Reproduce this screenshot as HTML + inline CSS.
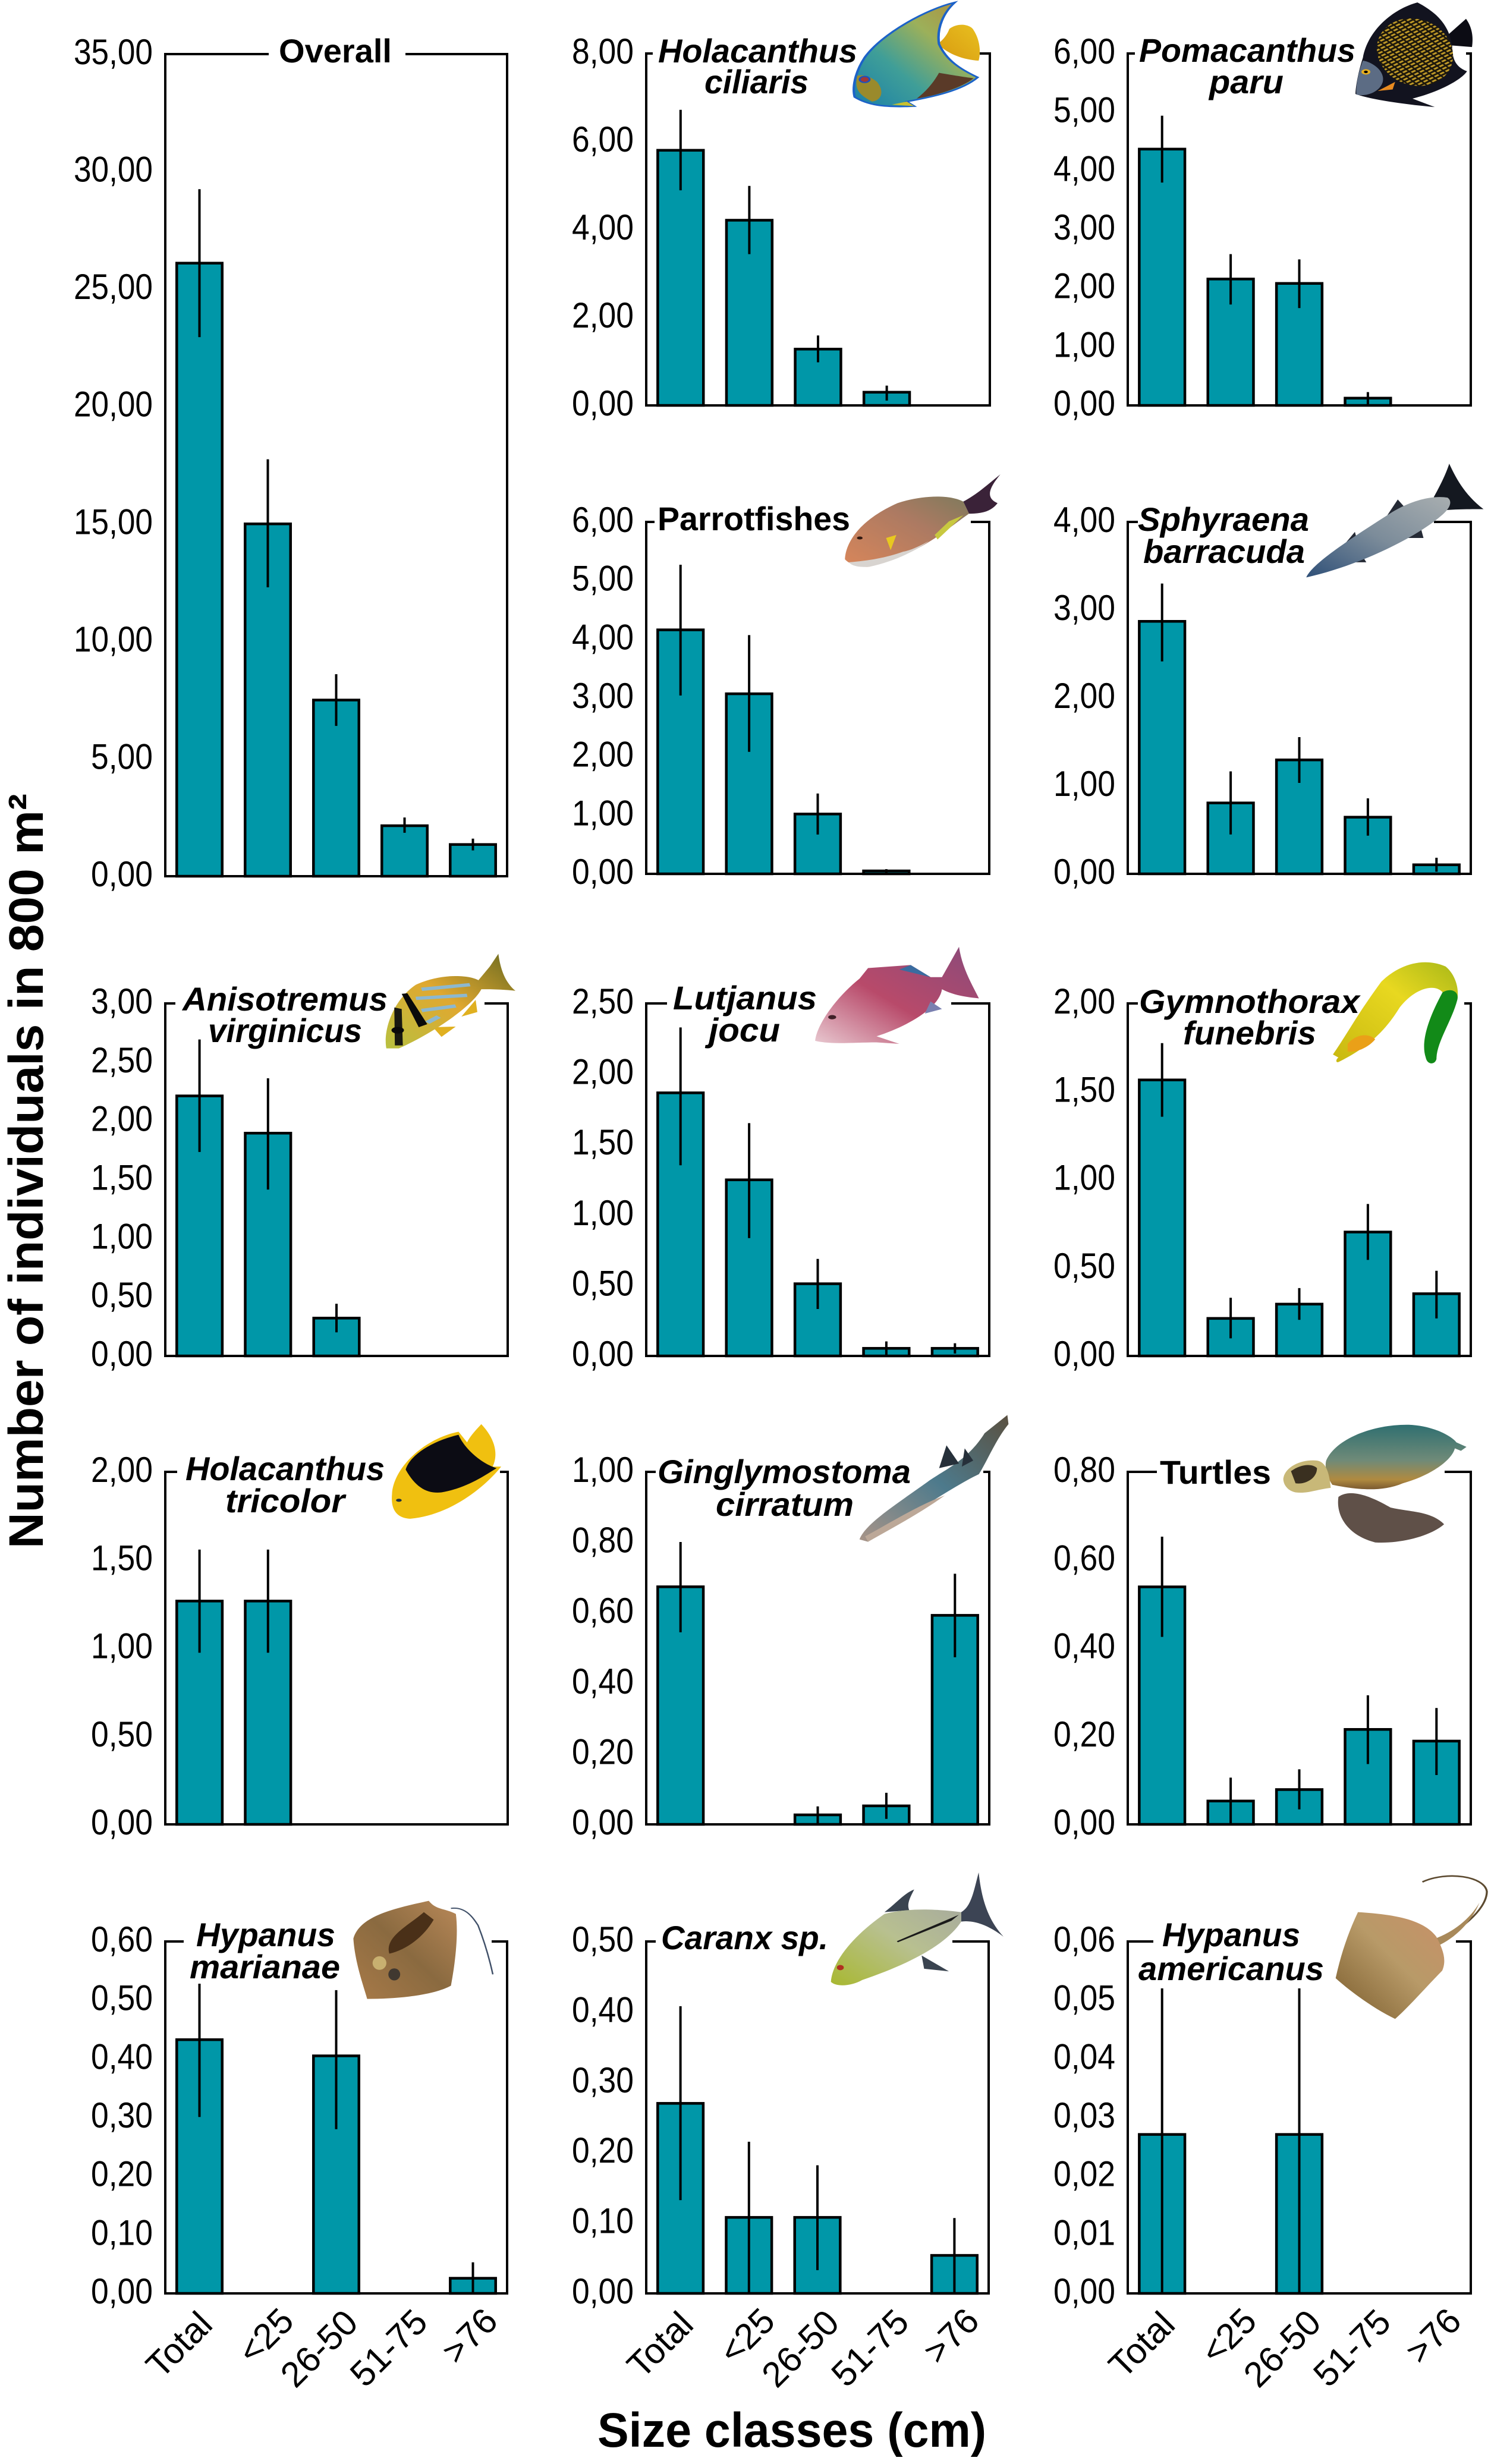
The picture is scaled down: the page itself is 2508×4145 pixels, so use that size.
<!DOCTYPE html>
<html lang="en">
<head>
<meta charset="utf-8">
<title>Number of individuals by size class</title>
<style>
  html, body { margin: 0; padding: 0; background: #ffffff; }
  svg { display: block; }
  text { font-family: "Liberation Sans", sans-serif; fill: #000; }
  .pt { font-size: 56px; font-weight: bold; font-style: italic; }
  .pu { font-size: 56px; font-weight: bold; }
</style>
</head>
<body>
<svg id="chart" xmlns="http://www.w3.org/2000/svg" width="2508" height="4145" viewBox="0 0 2508 4145">
  <defs>
    <linearGradient id="gQueen" x1="0" y1="1" x2="1" y2="0"><stop offset="0" stop-color="#1a7fa8"/><stop offset=".35" stop-color="#3f9e98"/><stop offset=".65" stop-color="#9cb05a"/><stop offset=".85" stop-color="#a89a48"/><stop offset="1" stop-color="#d0742c"/></linearGradient>
    <linearGradient id="gTail" x1="0" y1="1" x2="1" y2="0"><stop offset="0" stop-color="#d89a10"/><stop offset="1" stop-color="#e8c020"/></linearGradient>
    <pattern id="pGold" width="14" height="10" patternUnits="userSpaceOnUse" patternTransform="rotate(-30)"><rect width="14" height="10" fill="#1c170c"/><rect x="1" y="2" width="10" height="5" fill="#c09a28"/></pattern>
    <linearGradient id="gParrot" x1="0" y1="1" x2="1" y2="0"><stop offset="0" stop-color="#d8865a"/><stop offset=".6" stop-color="#ac7a62"/><stop offset="1" stop-color="#7f7a5c"/></linearGradient>
    <linearGradient id="gBarr" x1="0" y1="1" x2="1" y2="0"><stop offset="0" stop-color="#2f5078"/><stop offset=".5" stop-color="#7c8c9a"/><stop offset="1" stop-color="#a8aeb0"/></linearGradient>
    <linearGradient id="gGrunt" x1="0" y1="1" x2="1" y2="0"><stop offset="0" stop-color="#b8c040"/><stop offset=".5" stop-color="#e0a830"/><stop offset="1" stop-color="#6a6a20"/></linearGradient>
    <linearGradient id="gSnap" x1="0" y1="1" x2="1" y2="0"><stop offset="0" stop-color="#e8c8d0"/><stop offset=".45" stop-color="#b84a6a"/><stop offset="1" stop-color="#8a4a7a"/></linearGradient>
    <linearGradient id="gEel" x1="0" y1="1" x2="1" y2="0"><stop offset="0" stop-color="#c8b810"/><stop offset=".6" stop-color="#e8d820"/><stop offset="1" stop-color="#a8b818"/></linearGradient>
    <linearGradient id="gShark" x1="0" y1="1" x2="1" y2="0"><stop offset="0" stop-color="#a89488"/><stop offset=".5" stop-color="#4d7a8c"/><stop offset="1" stop-color="#5a5040"/></linearGradient>
    <linearGradient id="gShell" x1="0" y1="0" x2="0" y2="1"><stop offset="0" stop-color="#2f6f70"/><stop offset=".55" stop-color="#6f8a78"/><stop offset=".85" stop-color="#b08a40"/><stop offset="1" stop-color="#7a5a30"/></linearGradient>
    <linearGradient id="gRay" x1="0" y1="1" x2="1" y2="0"><stop offset="0" stop-color="#a87a48"/><stop offset=".5" stop-color="#8a6a40"/><stop offset="1" stop-color="#b88858"/></linearGradient>
    <linearGradient id="gJack" x1="0" y1="1" x2="1" y2="0"><stop offset="0" stop-color="#a8b830"/><stop offset=".4" stop-color="#b8c090"/><stop offset="1" stop-color="#9a9aa8"/></linearGradient>
    <linearGradient id="gRay2" x1="0" y1="1" x2="1" y2="0"><stop offset="0" stop-color="#7a5c2c"/><stop offset=".55" stop-color="#b89a68"/><stop offset="1" stop-color="#c89068"/></linearGradient>
  </defs>

  <g id="marks"></g>

  <text transform="rotate(-90 72 1970)" x="72" y="1970" text-anchor="middle" font-size="82" font-weight="bold" textLength="1270" lengthAdjust="spacingAndGlyphs">Number of individuals in 800 m²</text>
  <text x="1005" y="4116" font-size="82" font-weight="bold" textLength="654" lengthAdjust="spacingAndGlyphs">Size classes (cm)</text>

  <text class="pu" x="469" y="105" textLength="190" lengthAdjust="spacingAndGlyphs">Overall</text>
  <text class="pt" x="1107" y="105" textLength="335" lengthAdjust="spacingAndGlyphs">Holacanthus</text>
  <text class="pt" x="1185" y="157" textLength="175" lengthAdjust="spacingAndGlyphs">ciliaris</text>
  <text class="pt" x="1916" y="104" textLength="364" lengthAdjust="spacingAndGlyphs">Pomacanthus</text>
  <text class="pt" x="2034" y="157" textLength="125" lengthAdjust="spacingAndGlyphs">paru</text>
  <text class="pu" x="1106" y="892" textLength="324" lengthAdjust="spacingAndGlyphs">Parrotfishes</text>
  <text class="pt" x="1914" y="893" textLength="288" lengthAdjust="spacingAndGlyphs">Sphyraena</text>
  <text class="pt" x="1923" y="947" textLength="272" lengthAdjust="spacingAndGlyphs">barracuda</text>
  <text class="pt" x="307" y="1700" textLength="345" lengthAdjust="spacingAndGlyphs">Anisotremus</text>
  <text class="pt" x="350" y="1753" textLength="259" lengthAdjust="spacingAndGlyphs">virginicus</text>
  <text class="pt" x="1132" y="1698" textLength="242" lengthAdjust="spacingAndGlyphs">Lutjanus</text>
  <text class="pt" x="1192" y="1752" textLength="120" lengthAdjust="spacingAndGlyphs">jocu</text>
  <text class="pt" x="1916" y="1704" textLength="371" lengthAdjust="spacingAndGlyphs">Gymnothorax</text>
  <text class="pt" x="1990" y="1757" textLength="224" lengthAdjust="spacingAndGlyphs">funebris</text>
  <text class="pt" x="312" y="2490" textLength="335" lengthAdjust="spacingAndGlyphs">Holacanthus</text>
  <text class="pt" x="379" y="2544" textLength="201" lengthAdjust="spacingAndGlyphs">tricolor</text>
  <text class="pt" x="1106" y="2495" textLength="426" lengthAdjust="spacingAndGlyphs">Ginglymostoma</text>
  <text class="pt" x="1204" y="2550" textLength="232" lengthAdjust="spacingAndGlyphs">cirratum</text>
  <text class="pu" x="1951" y="2496" textLength="187" lengthAdjust="spacingAndGlyphs">Turtles</text>
  <text class="pt" x="330" y="3274" textLength="234" lengthAdjust="spacingAndGlyphs">Hypanus</text>
  <text class="pt" x="319" y="3328" textLength="253" lengthAdjust="spacingAndGlyphs">marianae</text>
  <text class="pt" x="1112" y="3279" textLength="281" lengthAdjust="spacingAndGlyphs">Caranx sp.</text>
  <text class="pt" x="1955" y="3274" textLength="232" lengthAdjust="spacingAndGlyphs">Hypanus</text>
  <text class="pt" x="1915" y="3331" textLength="312" lengthAdjust="spacingAndGlyphs">americanus</text>

  <!-- Species illustrations -->
  <g transform="translate(1200 0) scale(.834 .5102)">
    <path d="M476,95 C495,72 520,82 525,100 C537,130 540,170 535,200 C505,197 475,180 452,145 C465,130 472,112 476,95Z" fill="url(#gTail)"/>
    <path d="M487,8 C430,30 340,110 305,190 C285,240 280,290 285,320 C310,345 340,355 405,350 L390,335 C440,320 500,300 533,255 C500,230 470,200 455,145 C450,90 465,40 487,8Z" fill="url(#gQueen)" stroke="#1c62c8" stroke-width="5"/>
    <path d="M455,240 C490,250 510,255 525,258 C500,290 450,315 410,325 C430,300 445,270 455,240Z" fill="#5a3a28"/>
    <path d="M290,250 C285,290 290,310 320,335 C340,330 345,300 330,270 C315,250 300,245 290,250Z" fill="#9a8a2c"/>
    <circle cx="305" cy="262" r="10" fill="#a03838" stroke="#1c50c0" stroke-width="4"/>
    <path d="M360,345 L405,350 L390,335 Z" fill="#c8c030"/>
  </g>
  <g transform="translate(1200 0) scale(.834 .5102)">
    <path d="M1478,120 L1518,62 C1530,90 1533,120 1530,155 L1490,150Z" fill="#0c0c14"/>
    <path d="M1420,8 C1370,30 1320,100 1310,190 C1300,240 1295,290 1295,310 C1330,330 1400,345 1455,353 L1410,325 C1470,300 1510,260 1520,235 C1495,220 1490,190 1490,150 C1485,100 1470,50 1420,8Z" fill="#12131f"/>
    <ellipse cx="1415" cy="172" rx="76" ry="112" transform="rotate(-8 1415 172)" fill="url(#pGold)"/>
    <path d="M1310,200 C1300,240 1295,290 1297,312 C1320,320 1345,300 1350,270 C1355,235 1330,205 1310,200Z" fill="#5c6c84"/>
    <circle cx="1316" cy="237" r="9" fill="#e8b020"/><circle cx="1316" cy="237" r="4" fill="#000"/>
    <path d="M1340,300 L1375,270 L1370,295 Z" fill="#e88a20"/>
  </g>
  <g transform="translate(1000 780) scale(.9617 .5102)">
    <path d="M645,125 C670,100 690,65 710,35 C695,70 680,110 705,130 C695,155 680,165 655,165Z" fill="#3a2238"/>
    <path d="M438,315 C440,250 470,180 530,130 C570,105 620,100 645,125 L655,165 C620,210 570,300 480,340 C460,342 445,330 438,315Z" fill="url(#gParrot)"/>
    <path d="M445,325 C480,320 510,310 540,290 C555,285 570,270 585,255 C560,290 520,325 480,340 C465,342 450,338 445,325Z" fill="#d8d4d0"/>
    <path d="M600,250 L645,170 L620,190 L595,235Z" fill="#c8c840"/>
    <path d="M510,245 L518,285 L528,235 Z" fill="#e8c820"/>
    <circle cx="464" cy="245" r="5" fill="#301810"/>
  </g>
  <g transform="translate(1000 780) scale(.9617 .5102)">
    <path d="M1495,0 C1505,40 1520,100 1555,150 C1530,150 1500,150 1480,155 L1468,110 C1480,70 1490,30 1495,0Z" fill="#141820"/>
    <path d="M1405,118 L1420,150 L1385,175Z M1330,225 L1335,260 L1310,270Z M1445,210 L1450,245 L1420,245Z M1345,310 L1350,325 L1330,325Z" fill="#252a35"/>
    <path d="M1245,375 C1255,330 1320,250 1395,160 C1435,115 1470,105 1492,112 C1502,125 1495,150 1482,170 C1440,240 1340,335 1245,375Z" fill="url(#gBarr)"/>
  </g>
  <g transform="translate(250 1580) scale(.9566 .5102)">
    <path d="M575,200 L578,240 L550,255Z M500,290 L540,288 L515,322Z" fill="#e0b020"/>
    <path d="M418,360 C412,300 430,200 470,150 C510,115 560,115 580,135 L600,90 L615,48 C618,90 625,140 645,170 C620,165 600,165 585,165 C570,220 500,310 440,360Z" fill="url(#gGrunt)"/>
    <path d="M480,165 L565,150 M470,195 L560,185 M480,235 L540,220 M490,275 L510,255" stroke="#8cb8d0" stroke-width="11" fill="none"/>
    <path d="M445,180 L455,178 L490,280 L475,290Z" fill="#0a0a0a"/>
    <path d="M432,225 L445,230 L447,350 L433,350Z" fill="#181810"/>
    <circle cx="438" cy="300" r="11" fill="#0a0a0a"/>
  </g>
  <g transform="translate(250 1580) scale(.9566 .5102)">
    <path d="M1172,335 C1175,280 1210,190 1250,130 L1265,95 L1340,85 L1375,125 L1395,125 L1425,25 C1430,90 1445,140 1460,195 C1430,190 1410,180 1395,165 C1390,230 1330,290 1280,320 L1320,345 L1280,340 C1240,340 1200,348 1172,335Z" fill="url(#gSnap)"/>
    <path d="M1340,85 L1375,125 L1320,100Z" fill="#3a6ca0"/>
    <path d="M1375,205 L1395,230 L1365,245Z" fill="#7a80b0"/>
    <circle cx="1202" cy="257" r="7" fill="#402028"/>
  </g>
  <g transform="translate(1700 1580) scale(.5153 .5102)">
    <path d="M1052,380 C1100,310 1130,250 1210,140 C1260,90 1340,55 1420,90 C1450,115 1465,160 1458,200 L1410,175 C1385,145 1320,160 1270,225 C1230,290 1180,350 1070,405 C1060,408 1062,395 1070,390Z" fill="url(#gEel)"/>
    <path d="M1410,175 C1435,160 1465,170 1458,200 C1440,270 1390,340 1390,395 C1385,415 1360,415 1355,390 C1335,330 1375,240 1410,175Z" fill="#128a18"/>
    <path d="M1100,345 C1130,310 1170,310 1190,330 C1170,355 1130,375 1100,370Z" fill="#eaa018"/>
  </g>
  <g transform="translate(250 2360) scale(.9566 .5102)">
    <path d="M428,300 C430,220 480,120 545,95 L560,130 C565,110 575,90 585,70 C610,120 615,170 605,210 L620,210 C590,280 530,370 460,382 C440,380 425,360 428,300Z" fill="#f0c010"/>
    <path d="M545,105 C500,125 460,170 452,220 C470,280 490,300 515,295 C560,280 590,240 612,215 C585,200 555,150 545,105Z" fill="#0c0c14"/>
    <circle cx="440" cy="321" r="5" fill="#203040"/>
  </g>
  <g transform="translate(250 2360) scale(.9566 .5102)">
    <path d="M1250,450 C1260,400 1310,340 1370,260 C1400,220 1440,190 1470,100 L1510,40 L1512,70 C1490,120 1475,190 1460,235 C1420,270 1340,370 1265,458Z" fill="url(#gShark)"/>
    <path d="M1390,215 L1403,140 L1425,200Z M1430,210 L1435,150 L1450,190Z" fill="#26303a"/>
    <path d="M1260,440 C1300,400 1350,340 1400,305 C1360,360 1310,410 1265,458Z" fill="#bca898"/>
  </g>
  <g transform="translate(1700 2360) scale(.5153 .5102)">
    <path d="M1030,190 C1060,120 1180,70 1300,72 C1380,75 1440,110 1455,130 L1488,145 L1470,158 L1450,150 C1440,190 1370,240 1280,265 C1200,300 1100,280 1050,270 C1030,240 1025,210 1030,190Z" fill="url(#gShell)"/>
    <path d="M890,250 C895,210 950,185 1000,190 C1030,195 1040,230 1045,280 C1000,285 970,300 930,295 C905,290 890,270 890,250Z" fill="#c8b878"/>
    <path d="M915,225 C950,200 985,200 1000,215 C1000,250 960,270 930,265Z" fill="#3a3020"/>
    <path d="M1070,310 C1110,280 1180,310 1240,345 C1300,360 1370,355 1415,400 C1370,440 1270,465 1190,460 C1110,440 1060,380 1070,310Z" fill="#5f5048"/>
  </g>
  <g transform="translate(0 3150) scale(.829 .6346)">
    <path d="M915,95 C945,90 960,120 970,140 C985,190 995,240 1000,270" fill="none" stroke="#405068" stroke-width="3"/>
    <path d="M870,75 C800,95 730,115 717,175 C720,240 740,310 745,335 C810,335 880,325 915,300 C925,230 930,160 925,110 C905,95 885,100 870,75Z" fill="url(#gRay)"/>
    <path d="M860,105 C830,140 780,170 790,215 C825,205 860,170 880,125Z" fill="#4a3018"/>
    <ellipse cx="770" cy="240" rx="14" ry="18" fill="#c8b070"/><ellipse cx="800" cy="270" rx="12" ry="16" fill="#403830"/>
  </g>
  <g transform="translate(1200 3150) scale(.834 .6346)">
    <path d="M345,105 C370,80 385,55 405,45 C395,70 390,85 395,100Z M420,220 L475,262 L425,255Z" fill="#3a4450"/>
    <path d="M237,290 C240,230 290,160 345,110 C400,90 470,100 500,105 C520,90 525,50 535,0 C540,60 550,120 585,170 C560,145 530,125 500,130 C470,190 400,240 300,285 C280,300 250,305 237,290Z" fill="url(#gJack)"/>
    <path d="M370,182 L495,112 L480,128 L372,185Z" fill="#1a1a1a"/>
    <path d="M500,105 C520,90 525,50 535,0 C540,60 550,120 585,170 C560,145 530,125 500,130Z" fill="#3c4454"/>
    <circle cx="256" cy="252" r="7" fill="#b03020"/>
  </g>
  <g transform="translate(1200 3150) scale(.834 .6346)">
    <path d="M1455,185 C1500,160 1560,100 1560,50 C1555,10 1480,-5 1430,25" fill="none" stroke="#5c4a30" stroke-width="4"/>
    <path d="M1450,178 C1490,160 1525,125 1545,80 C1530,130 1495,175 1460,195Z" fill="#a8895a"/>
    <path d="M1300,105 C1360,110 1430,120 1458,170 C1470,200 1480,230 1470,260 C1440,300 1400,360 1375,388 C1330,360 1280,310 1255,280 C1265,220 1280,160 1300,105Z" fill="url(#gRay2)"/>
  </g>
</svg>

<script>
const categories = ["Total", "<25", "26-50", "51-75", ">76"];

const overallTicks = ["0,00", "5,00", "10,00", "15,00", "20,00", "25,00", "30,00", "35,00"];
const overallMeans = [26.1, 15.0, 7.5, 2.15, 1.35];
const overallHigh = [29.25, 17.75, 8.6, 2.5, 1.6];
const overallLow = [22.95, 12.3, 6.4, 1.85, 1.1];

const ciliarisTicks = ["0,00", "2,00", "4,00", "6,00", "8,00"];
const ciliarisMeans = [5.80, 4.21, 1.28, 0.30, null];
const ciliarisHigh = [6.72, 4.99, 1.59, 0.45, null];
const ciliarisLow = [4.89, 3.44, 0.98, 0.11, null];

const paruTicks = ["0,00", "1,00", "2,00", "3,00", "4,00", "5,00", "6,00"];
const paruMeans = [4.37, 2.155, 2.08, 0.124, null];
const paruHigh = [4.94, 2.58, 2.49, 0.227, null];
const paruLow = [3.80, 1.72, 1.66, 0.0, null];

const parrotTicks = ["0,00", "1,00", "2,00", "3,00", "4,00", "5,00", "6,00"];
const parrotMeans = [4.16, 3.07, 1.02, 0.05, null];
const parrotHigh = [5.27, 4.07, 1.37, 0.08, null];
const parrotLow = [3.04, 2.08, 0.67, 0.0, null];

const barracudaTicks = ["0,00", "1,00", "2,00", "3,00", "4,00"];
const barracudaMeans = [2.87, 0.806, 1.295, 0.644, 0.103];
const barracudaHigh = [3.30, 1.165, 1.554, 0.858, 0.183];
const barracudaLow = [2.415, 0.448, 1.034, 0.434, 0.024];

const virginicusTicks = ["0,00", "0,50", "1,00", "1,50", "2,00", "2,50", "3,00"];
const virginicusMeans = [2.213, 1.896, 0.322, null, null];
const virginicusHigh = [2.693, 2.363, 0.444, null, null];
const virginicusLow = [1.736, 1.416, 0.201, null, null];

const jocuTicks = ["0,00", "0,50", "1,00", "1,50", "2,00", "2,50"];
const jocuMeans = [1.866, 1.249, 0.512, 0.054, 0.054];
const jocuHigh = [2.33, 1.651, 0.688, 0.103, 0.09];
const jocuLow = [1.352, 0.836, 0.333, 0.0, 0.017];

const funebrisTicks = ["0,00", "0,50", "1,00", "1,50", "2,00"];
const funebrisMeans = [1.566, 0.213, 0.294, 0.703, 0.353];
const funebrisHigh = [1.775, 0.33, 0.385, 0.862, 0.483];
const funebrisLow = [1.357, 0.10, 0.205, 0.545, 0.213];

const tricolorTicks = ["0,00", "0,50", "1,00", "1,50", "2,00"];
const tricolorMeans = [1.267, 1.267, null, null, null];
const tricolorHigh = [1.559, 1.559, null, null, null];
const tricolorLow = [0.974, 0.974, null, null, null];

const cirratumTicks = ["0,00", "0,20", "0,40", "0,60", "0,80", "1,00"];
const cirratumMeans = [0.674, null, 0.027, 0.0525, 0.593];
const cirratumHigh = [0.801, null, 0.051, 0.0895, 0.711];
const cirratumLow = [0.545, null, 0.0, 0.0155, 0.474];

const turtlesTicks = ["0,00", "0,20", "0,40", "0,60", "0,80"];
const turtlesMeans = [0.539, 0.053, 0.079, 0.2155, 0.189];
const turtlesHigh = [0.653, 0.106, 0.125, 0.293, 0.264];
const turtlesLow = [0.4255, 0.0, 0.034, 0.137, 0.112];

const marianaeTicks = ["0,00", "0,10", "0,20", "0,30", "0,40", "0,50", "0,60"];
const marianaeMeans = [0.4326, null, 0.405, null, 0.0258];
const marianaeHigh = [0.528, null, 0.517, null, 0.053];
const marianaeLow = [0.3007, null, 0.28, null, 0.0];

const caranxTicks = ["0,00", "0,10", "0,20", "0,30", "0,40", "0,50"];
const caranxMeans = [0.27, 0.108, 0.108, null, 0.054];
const caranxHigh = [0.408, 0.2155, 0.182, null, 0.107];
const caranxLow = [0.1325, 0.0, 0.033, null, 0.0];

const americanusTicks = ["0,00", "0,01", "0,02", "0,03", "0,04", "0,05", "0,06"];
const americanusMeans = [0.0271, null, 0.0271, null, null];
const americanusHigh = [0.052, null, 0.052, null, null];
const americanusLow = [0.0, null, 0.0, null, null];

/* Layout (kept apart from the data) */
const BAR_FILL = "#0097a8";
const panelLayout = [
  { name: "overall", ticks: overallTicks, means: overallMeans, high: overallHigh, low: overallLow, left: 278, right: 853, top: 91, bottom: 1474, topEnds: [450, 684] },
  { name: "holacanthus-ciliaris", ticks: ciliarisTicks, means: ciliarisMeans, high: ciliarisHigh, low: ciliarisLow, left: 1087, right: 1665, top: 90, bottom: 682, topEnds: [1096, 1650] },
  { name: "pomacanthus-paru", ticks: paruTicks, means: paruMeans, high: paruHigh, low: paruLow, left: 1897, right: 2474, top: 90, bottom: 682, topEnds: [1907, 2468] },
  { name: "parrotfishes", ticks: parrotTicks, means: parrotMeans, high: parrotHigh, low: parrotLow, left: 1087, right: 1664, top: 878, bottom: 1470, topEnds: [1099, 1635] },
  { name: "sphyraena-barracuda", ticks: barracudaTicks, means: barracudaMeans, high: barracudaHigh, low: barracudaLow, left: 1897, right: 2474, top: 878, bottom: 1470, topEnds: [1912, 2414] },
  { name: "anisotremus-virginicus", ticks: virginicusTicks, means: virginicusMeans, high: virginicusHigh, low: virginicusLow, left: 278, right: 854, top: 1688, bottom: 2281, topEnds: [293, 817] },
  { name: "lutjanus-jocu", ticks: jocuTicks, means: jocuMeans, high: jocuHigh, low: jocuLow, left: 1087, right: 1664, top: 1688, bottom: 2281, topEnds: [1120, 1602] },
  { name: "gymnothorax-funebris", ticks: funebrisTicks, means: funebrisMeans, high: funebrisHigh, low: funebrisLow, left: 1897, right: 2474, top: 1688, bottom: 2281, topEnds: [1912, 2465] },
  { name: "holacanthus-tricolor", ticks: tricolorTicks, means: tricolorMeans, high: tricolorHigh, low: tricolorLow, left: 278, right: 854, top: 2476, bottom: 3069, topEnds: [296, 843] },
  { name: "ginglymostoma-cirratum", ticks: cirratumTicks, means: cirratumMeans, high: cirratumHigh, low: cirratumLow, left: 1087, right: 1664, top: 2476, bottom: 3069, topEnds: [1101, 1656] },
  { name: "turtles", ticks: turtlesTicks, means: turtlesMeans, high: turtlesHigh, low: turtlesLow, left: 1897, right: 2474, top: 2476, bottom: 3069, topEnds: [1944, 2432] },
  { name: "hypanus-marianae", ticks: marianaeTicks, means: marianaeMeans, high: marianaeHigh, low: marianaeLow, left: 278, right: 853, top: 3266, bottom: 3858, topEnds: [307, 829], showX: true },
  { name: "caranx-sp", ticks: caranxTicks, means: caranxMeans, high: caranxHigh, low: caranxLow, left: 1087, right: 1663, top: 3266, bottom: 3858, topEnds: [1101, 1604], showX: true },
  { name: "hypanus-americanus", ticks: americanusTicks, means: americanusMeans, high: americanusHigh, low: americanusLow, left: 1897, right: 2474, top: 3266, bottom: 3858, topEnds: [1938, 2451], showX: true }
];
const labelNudge = {
  "Total": { dx: -20, dy: 8 },
  "<25": { dx: 2, dy: 2 },
  "26-50": { dx: -5, dy: 5 },
  "51-75": { dx: -3, dy: 4 },
  ">76": { dx: 0, dy: 2 }
};

const SVG_NS = "http://www.w3.org/2000/svg";
const root = document.getElementById("marks");

function make(tag, parent, attrs) {
  const node = document.createElementNS(SVG_NS, tag);
  Object.keys(attrs).forEach(function (k) { node.setAttribute(k, attrs[k]); });
  parent.appendChild(node);
  return node;
}

function tickValue(label) {
  return parseFloat(label.replace(",", "."));
}

function drawPanel(p) {
  const maxValue = tickValue(p.ticks[p.ticks.length - 1]);
  const yScale = function (v) { return p.bottom - (v / maxValue) * (p.bottom - p.top); };
  const band = (p.right - p.left) / categories.length;
  const xScale = function (i) { return p.left + band * (i + 0.5); };
  const barWidth = band * 0.665;

  const g = make("g", root, {});
  
  

  p.means.forEach(function (value, i) {
    if (value === null) return;
    const bar = make("rect", g, {
      x: xScale(i) - barWidth / 2, y: yScale(value),
      width: barWidth, height: p.bottom - yScale(value),
      fill: BAR_FILL, stroke: "#000", "stroke-width": 4.5
    });
    
    
  });

  p.means.forEach(function (value, i) {
    if (value === null) return;
    const err = make("line", g, {
      x1: xScale(i), x2: xScale(i), y1: yScale(p.high[i]), y2: yScale(p.low[i]),
      stroke: "#000", "stroke-width": 4
    });
    
    
  });

  const frame = make("path", g, {
    d: "M" + p.topEnds[0] + " " + p.top + "H" + p.left + "V" + p.bottom + "H" + p.right + "V" + p.top + "H" + p.topEnds[1],
    fill: "none", stroke: "#000", "stroke-width": 4, "stroke-linecap": "square"
  });
  
  

  p.ticks.forEach(function (label) {
    const t = make("text", g, {
      x: p.left - 21, y: yScale(tickValue(label)) + 17,
      "text-anchor": "end", "font-size": 60,
      textLength: label.length > 4 ? 133 : 104,
      lengthAdjust: "spacingAndGlyphs"
    });
    
    
    t.textContent = label;
  });

  if (p.showX) {
    categories.forEach(function (label, i) {
      const ex = xScale(i) + 45 + labelNudge[label].dx;
      const ey = p.bottom + 48 + labelNudge[label].dy;
      const t = make("text", g, {
        x: ex, y: ey, "text-anchor": "end", "font-size": 60,
        transform: "rotate(-45 " + ex + " " + ey + ")"
      });
      
      
      t.textContent = label;
    });
  }
}

panelLayout.forEach(drawPanel);
</script>
</body>
</html>
